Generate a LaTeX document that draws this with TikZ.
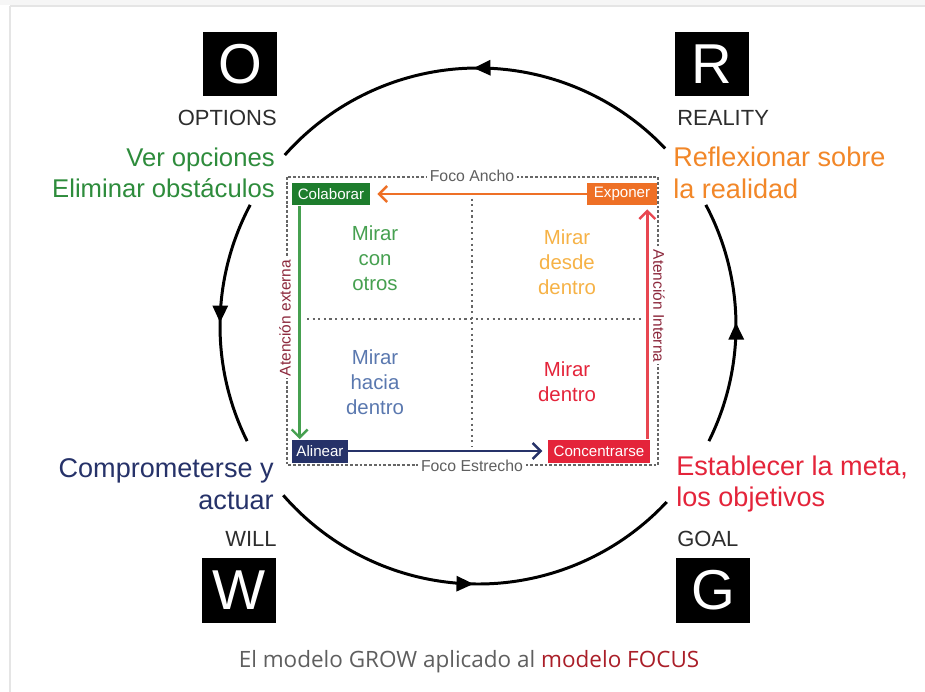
\documentclass[tikz,border=0pt]{standalone}
\usepackage{fontspec}
\setmainfont{Liberation Sans}
\newfontfamily\captionfont{Open Sans}
\usetikzlibrary{arrows.meta,decorations.markings,positioning}

\definecolor{growgreen}{RGB}{46,140,60}
\definecolor{boxgreen}{RGB}{30,125,45}
\definecolor{groworange}{RGB}{242,135,40}
\definecolor{boxorange}{RGB}{238,112,38}
\definecolor{grownavy}{RGB}{38,50,105}
\definecolor{growred}{RGB}{228,36,58}
\definecolor{arrowred}{RGB}{232,70,80}
\definecolor{softgreen}{RGB}{70,160,80}
\definecolor{softorange}{RGB}{246,178,70}
\definecolor{softblue}{RGB}{90,120,175}
\definecolor{sidered}{RGB}{140,40,60}
\definecolor{stagegray}{RGB}{45,45,45}
\definecolor{capgray}{RGB}{95,95,95}
\definecolor{capred}{RGB}{170,30,40}

\tikzset{
  letterbox/.style={fill=black, text=white, minimum width=1.48cm, minimum height=1.3cm,
    inner sep=0pt, font=\fontsize{32}{32}\selectfont},
  stage/.style={text=stagegray, inner sep=0pt, font=\fontsize{12.5}{14}\selectfont},
  goal/.style={inner sep=0pt, font=\fontsize{15.4}{18}\selectfont},
  cycle arc/.style={line width=1.7pt, postaction={decorate},
    decoration={markings, mark=at position 0.5 with {\arrow{Triangle[length=0.34cm,width=0.3cm]}}}},
  stepbox/.style={text=white, inner sep=0pt, minimum height=0.46cm, font=\fontsize{8.6}{9}\selectfont},
  focus/.style={line width=1.4pt, -{Straight Barb[length=1.6mm,width=3.2mm]}},
  quad/.style={align=center, inner sep=0pt, font=\fontsize{11.6}{14.2}\selectfont},
  edge label/.style={fill=white, text=capgray, inner sep=1.5pt, font=\fontsize{9}{10}\selectfont},
  side/.style={fill=white, text=sidered, inner sep=1pt, font=\fontsize{8.8}{10}\selectfont}
}

\begin{document}
\begin{tikzpicture}[x=0.02cm, y=-0.02cm]
\useasboundingbox (0,0) rectangle (925,692);
\fill[white] (0,0) rectangle (925,692);
\fill[gray!7] (0,0) rectangle (925,5);
\draw[gray!20, line width=1pt] (10,6) -- (925,6);
\draw[gray!20, line width=1pt] (10,6) -- (10,692);

% GROW cycle
\draw[cycle arc] (478,326) ++(-43.5:258) arc[start angle=-43.5, end angle=-138.5, radius=258];
\draw[cycle arc] (478,326) ++(-152:258) arc[start angle=-152, end angle=-206.5, radius=258];
\draw[cycle arc] (478,326) ++(-221:258) arc[start angle=-221, end angle=-317, radius=258];
\draw[cycle arc] (478,326) ++(26.5:258) arc[start angle=26.5, end angle=-28, radius=258];

\node[letterbox] (O) at (240,64) {O};
\node[letterbox] (R) at (712,64) {R};
\node[letterbox] (W) at (239,590) {W};
\node[letterbox] (G) at (713,590) {G};

\node[stage, anchor=base east] (options) at (277,126) {OPTIONS};
\node[stage, anchor=base west] (reality) at (677,126) {REALITY};
\node[stage, anchor=base east] (will) at (277,546) {WILL};
\node[stage, anchor=base west] (goalname) at (677,546) {GOAL};

\node[goal, text=growgreen, align=right, anchor=east, font=\fontsize{14.6}{17.6}\selectfont] (ver) at (275,173) {Ver opciones\\Eliminar obstáculos};
\node[goal, text=groworange, align=left, anchor=west] (reflex) at (673,173) {Reflexionar sobre\\la realidad};
\node[goal, text=grownavy, align=right, anchor=east] (comp) at (274,484) {Comprometerse y\\actuar};
\node[goal, text=growred, align=left, anchor=west] (estab) at (676,484) {Establecer la meta,\\los objetivos};

% FOCUS square
\draw[gray!80!black, line width=1.1pt, dash pattern=on 1.6pt off 1.1pt] (287,177) rectangle (658,465);
\draw[gray!80!black, line width=1.2pt, dotted] (472,193) -- (472,447);
\draw[gray!80!black, line width=1.2pt, dotted] (307,319) -- (642,319);
\node[edge label] (ancho) at (472,176) {Foco Ancho};
\node[edge label] (estrecho) at (472,466) {Foco Estrecho};
\node[side, rotate=90] (externa) at (285,318) {Atención externa};
\node[side, rotate=-90] (interna) at (659,306) {Atención Interna};

\node[quad, text=softgreen] (otros) at (375,258) {Mirar\\con\\otros};
\node[quad, text=softorange] (desde) at (567,262) {Mirar\\desde\\dentro};
\node[quad, text=softblue] (hacia) at (375,382) {Mirar\\hacia\\dentro};
\node[quad, text=growred] (dentro) at (567,382) {Mirar\\dentro};

\node[stepbox, fill=boxgreen, minimum width=1.56cm] (colaborar) at (331,194) {Colaborar};
\node[stepbox, fill=boxorange, minimum width=1.4cm] (exponer) at (622,194) {Exponer};
\node[stepbox, fill=grownavy, minimum width=1.12cm] (alinear) at (320,451) {Alinear};
\node[stepbox, fill=growred, minimum width=2.04cm] (concentrarse) at (599,451) {Concentrarse};

\draw[focus, boxorange, shorten >=4pt] (exponer) -- (colaborar);
\draw[focus, softgreen] ([xshift=0.16cm]colaborar.south west) -- ([xshift=0.16cm]colaborar.south west |- alinear.north) ;
\draw[focus, grownavy, shorten >=3pt] (alinear) -- (concentrarse);
\draw[focus, arrowred, shorten >=2pt] ([xshift=-0.06cm]concentrarse.north east) -- ([xshift=-0.06cm]concentrarse.north east |- exponer.south);

\node[anchor=center, inner sep=0pt] (caption) at (469,662)
  {\captionfont\fontsize{12.8}{15}\selectfont\color{capgray}El modelo GROW aplicado al \textcolor{capred}{modelo FOCUS}};
\end{tikzpicture}
\end{document}
